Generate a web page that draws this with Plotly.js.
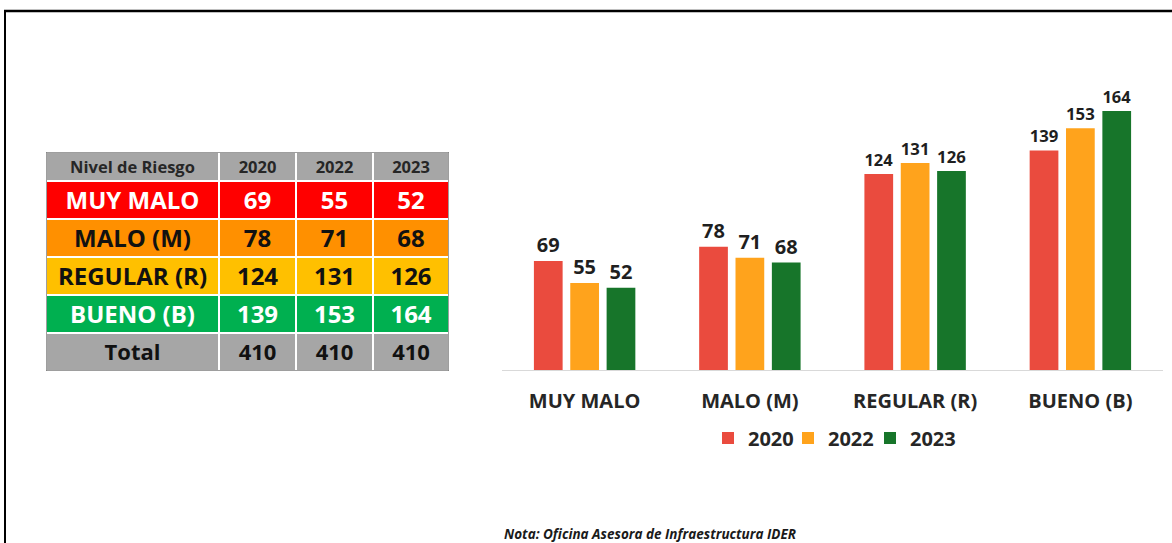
<!DOCTYPE html>
<html>
<head>
<meta charset="utf-8">
<script src="https://cdn.plot.ly/plotly-3.0.1.min.js"></script>
<style>
  html, body { margin: 0; padding: 0; background: #ffffff; }
  #chart { width: 1172px; height: 543px; }
</style>
</head>
<body>
<div id="chart"></div>
<script>
// ---- Data ----
const categories = ["MUY MALO", "MALO (M)", "REGULAR (R)", "BUENO (B)"];
const years = ["2020", "2022", "2023"];
const values2020 = [69, 78, 124, 139];
const values2022 = [55, 71, 131, 153];
const values2023 = [52, 68, 126, 164];
const tableHeader = ["Nivel de Riesgo", "2020", "2022", "2023"];
const totalLabel = "Total";
const noteText = "Nota: Oficina Asesora de Infraestructura IDER";

// ---- Styles ----
const FONT = "'Open Sans', 'Noto Sans', sans-serif";
const barColors = ["#EA4B3E", "#FFA31C", "#17752A"];
const rowFill = ["#A6A6A6", "#FF0000", "#FF9000", "#FFC000", "#00B050", "#A6A6A6"];
const rowTextColor = ["#262626", "#FFFFFF", "#111111", "#111111", "#FFFFFF", "#111111"];
const rowFontSize = [16.5, 24, 24, 24, 24, 22];
// table geometry (px-like units on the table axes)
const colWidths = [173, 77, 77, 76];
const rowHeights = [29, 38, 38, 38, 38, 38];
const textDrop = 2.5;
// legend entry left positions (px)
const legendLeft = [708, 788, 870];

const W = 1172, H = 543;

// ---- Bar traces ----
const series = [values2020, values2022, values2023];
const legendIds = ["legend", "legend2", "legend3"];
const traces = series.map((vals, i) => ({
  type: "bar",
  name: years[i],
  x: categories,
  y: vals,
  xaxis: "x",
  yaxis: "y",
  legend: legendIds[i],
  marker: { color: barColors[i] },
  text: vals.map(String),
  textposition: "outside",
  cliponaxis: false,
  textfont: { family: FONT, size: 20, color: "#1f1f1f", weight: "bold" },
  hoverinfo: "x+y+name"
}));

// ---- Table (heatmap cells + text) ----
const colEdges = [0];
colWidths.forEach(w => colEdges.push(colEdges[colEdges.length - 1] + w));
const rowEdges = [0];
rowHeights.forEach(h => rowEdges.push(rowEdges[rowEdges.length - 1] + h));
const colCenters = colWidths.map((w, i) => (colEdges[i] + colEdges[i + 1]) / 2);
const rowCenters = rowHeights.map((h, i) => (rowEdges[i] + rowEdges[i + 1]) / 2 + textDrop);

const totals = [values2020, values2022, values2023].map(a => a.reduce((s, v) => s + v, 0));
const tableRows = [tableHeader];
categories.forEach((c, i) => tableRows.push([c, values2020[i], values2022[i], values2023[i]].map(String)));
tableRows.push([totalLabel].concat(totals.map(String)));

const nColors = rowFill.length;
const zCells = tableRows.map((r, ri) => r.map(() => ri));
const colorscale = [];
rowFill.forEach((c, i) => {
  colorscale.push([i / nColors, c]);
  colorscale.push([(i + 1) / nColors, c]);
});

traces.push({
  type: "heatmap",
  x: colEdges,
  y: rowEdges,
  z: zCells,
  xaxis: "x2",
  yaxis: "y2",
  zmin: -0.5,
  zmax: nColors - 0.5,
  colorscale: colorscale,
  showscale: false,
  xgap: 2,
  ygap: 2,
  hoverinfo: "skip",
  showlegend: false
});

const tx = [], ty = [], tt = [], tc = [], ts = [];
tableRows.forEach((r, ri) => r.forEach((v, ci) => {
  tx.push(colCenters[ci]); ty.push(rowCenters[ri]); tt.push(v);
  tc.push(rowTextColor[ri]); ts.push(rowFontSize[ri]);
}));
traces.push({
  type: "scatter",
  mode: "text",
  x: tx,
  y: ty,
  text: tt,
  textposition: "middle center",
  textfont: { family: FONT, size: ts, color: tc, weight: "bold" },
  xaxis: "x2",
  yaxis: "y2",
  hoverinfo: "skip",
  showlegend: false,
  cliponaxis: false
});

const tableW = colEdges[colEdges.length - 1];
const tableH = rowEdges[rowEdges.length - 1];
const tableLeft = 46, tableTop = 152;

function legendAt(px) {
  return {
    orientation: "h",
    x: px / W,
    xanchor: "left",
    y: (H - 438) / H,
    yanchor: "middle",
    font: { family: FONT, size: 20, color: "#262626", weight: "bold" },
    bgcolor: "rgba(0,0,0,0)"
  };
}

const layout = {
  width: W,
  height: H,
  margin: { l: 0, r: 0, t: 0, b: 0 },
  paper_bgcolor: "#FFFFFF",
  plot_bgcolor: "#FFFFFF",
  barmode: "group",
  bargap: 0.34,
  bargroupgap: 0.21,
  font: { family: FONT, color: "#262626" },
  xaxis: {
    domain: [502 / W, 1163 / W],
    anchor: "y",
    type: "category",
    showline: true,
    linecolor: "#D9D9D9",
    linewidth: 1,
    ticks: "",
    ticklabelstandoff: 13,
    tickfont: { family: FONT, size: 20, color: "#262626", weight: "bold" },
    showgrid: false,
    zeroline: false,
    fixedrange: true
  },
  yaxis: {
    domain: [(H - 370) / H, (H - 77.7) / H],
    anchor: "x",
    range: [0, 185],
    visible: false,
    showgrid: false,
    zeroline: false,
    fixedrange: true
  },
  xaxis2: {
    domain: [tableLeft / W, (tableLeft + tableW) / W],
    anchor: "y2",
    range: [0, tableW],
    visible: false,
    fixedrange: true
  },
  yaxis2: {
    domain: [(H - tableTop - tableH) / H, (H - tableTop) / H],
    anchor: "x2",
    range: [tableH, 0],
    visible: false,
    fixedrange: true
  },
  showlegend: true,
  legend: legendAt(legendLeft[0]),
  legend2: legendAt(legendLeft[1]),
  legend3: legendAt(legendLeft[2]),
  shapes: [
    { type: "rect", xref: "x2", yref: "y2", x0: 0, x1: tableW, y0: 0, y1: tableH,
      line: { color: "#7F7F7F", width: 1.5 }, fillcolor: "rgba(0,0,0,0)" },
    { type: "line", xref: "paper", yref: "paper", x0: 4 / W, x1: 1, y0: (H - 11) / H, y1: (H - 11) / H,
      line: { color: "#000000", width: 2.5 } },
    { type: "line", xref: "paper", yref: "paper", x0: 5 / W, x1: 5 / W, y0: 0, y1: (H - 10) / H,
      line: { color: "#000000", width: 2 } }
  ],
  annotations: [
    { xref: "paper", yref: "paper", x: 502 / W, y: (H - 533.5) / H, xanchor: "left", yanchor: "middle",
      text: noteText, showarrow: false,
      font: { family: FONT, size: 13.5, color: "#1a1a1a", weight: "bold", style: "italic" } }
  ]
};

Plotly.newPlot("chart", traces, layout, { displayModeBar: false, staticPlot: true });
</script>
</body>
</html>
